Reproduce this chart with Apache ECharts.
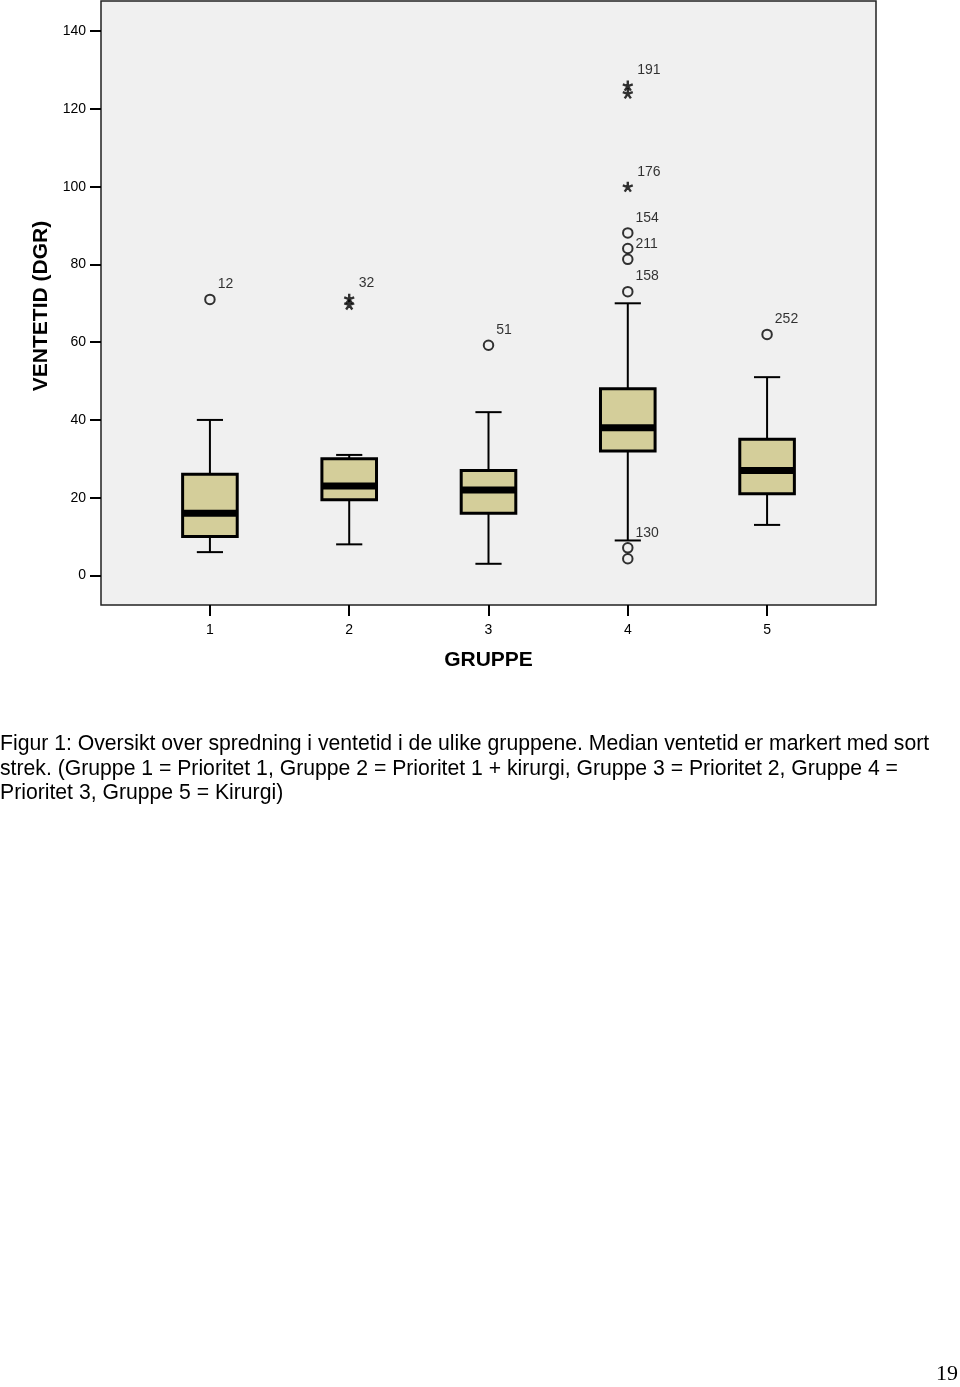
<!DOCTYPE html>
<html>
<head>
<meta charset="utf-8">
<script src="https://cdn.jsdelivr.net/npm/echarts@6/dist/echarts.min.js"></script>
<style>
html,body{margin:0;padding:0;background:#fff;}
#chart{width:960px;height:1387px;}
</style>
</head>
<body>
<div id="chart"></div>
<script>
// ---- data ----
const groups = [1, 2, 3, 4, 5];
const tickLabelsX = ['1', '2', '3', '4', '5'];
const tickValuesY = [0, 20, 40, 60, 80, 100, 120, 140];
const whiskerLow  = [6, 8, 3, 9, 13];
const q1          = [10, 19.5, 16, 32, 21];
const median      = [16, 23, 22, 38, 27];
const q3          = [26, 30, 27, 48, 35];
const whiskerHigh = [40, 31, 42, 70, 51];

const outlierGroup = [1, 3, 4, 4, 4, 4, 4, 4, 5];
const outlierValue = [71, 59.2, 7.1, 4.3, 73, 81.3, 84.1, 88.1, 62];
const outlierLabel = ['12', '51', '130', '', '158', '211', '', '154', '252'];

const extremeGroup = [2, 2, 4, 4, 4];
const extremeValue = [71.2, 69.7, 100, 126, 124];
const extremeLabel = ['32', '', '176', '191', ''];

const xTitle = 'GRUPPE';
const yTitle = 'VENTETID (DGR)';
const captionLines = [
  'Figur 1: Oversikt over spredning i ventetid i de ulike gruppene. Median ventetid er markert med sort',
  'strek. (Gruppe 1 = Prioritet 1, Gruppe 2 = Prioritet 1 + kirurgi, Gruppe 3 = Prioritet 2, Gruppe 4 =',
  'Prioritet 3, Gruppe 5 = Kirurgi)'
];
const pageNumber = '19';

// ---- styles ----
const FONT = '"Liberation Sans", Arial, sans-serif';
const BOX_FILL = '#d4ce9a';
const BOX_W = 0.392;
const CAP_W = 0.188;

const boxData = groups.map((g, i) => [g, whiskerLow[i], q1[i], median[i], q3[i], whiskerHigh[i]]);
const outData = outlierGroup.map((g, i) => [g, outlierValue[i], outlierLabel[i]]);
const extData = extremeGroup.map((g, i) => [g, extremeValue[i], extremeLabel[i]]);

const chart = echarts.init(document.getElementById('chart'), null, {renderer: 'canvas'});

const labelCfg = {
  show: true,
  position: 'right',
  distance: 2,
  offset: [0, -15],
  formatter: p => p.value[2],
  fontSize: 14,
  fontFamily: FONT,
  color: '#000'
};

const option = {
  animation: false,
  backgroundColor: '#fff',
  grid: {
    left: 101, top: 1, width: 775, height: 604,
    show: true, backgroundColor: '#f0f0f0', borderColor: '#222', borderWidth: 1.5
  },
  xAxis: {
    type: 'value', min: 0.218, max: 5.782,
    name: xTitle, nameLocation: 'middle', nameGap: 45,
    nameTextStyle: {fontSize: 21, fontWeight: 'bold', fontFamily: FONT, color: '#000'},
    axisLine: {show: false, onZero: false},
    splitLine: {show: false},
    axisTick: {show: true, length: 11, lineStyle: {color: '#000', width: 2}, customValues: groups},
    axisLabel: {
      show: true, margin: 18, fontSize: 14, fontFamily: FONT, color: '#000',
      customValues: groups,
      formatter: v => tickLabelsX[groups.indexOf(Math.round(v))] || ''
    }
  },
  yAxis: {
    type: 'value', min: -7.6, max: 147.75,
    name: yTitle, nameLocation: 'middle', nameGap: 49, nameRotate: 90,
    nameTextStyle: {fontSize: 21, fontWeight: 'bold', fontFamily: FONT, color: '#000', padding: [0, 6, 0, 0]},
    axisLine: {show: false, onZero: false},
    splitLine: {show: false},
    axisTick: {show: true, length: 11, lineStyle: {color: '#000', width: 2}, customValues: tickValuesY},
    axisLabel: {
      show: true, margin: 15, fontSize: 14, fontFamily: FONT, color: '#000',
      customValues: tickValuesY
    }
  },
  series: [
    {
      type: 'custom',
      data: boxData,
      encode: {x: 0, y: [1, 2, 3, 4, 5]},
      renderItem: function (params, api) {
        const x = api.value(0);
        const pLo = api.coord([x, api.value(1)]);
        const pQ1 = api.coord([x, api.value(2)]);
        const pMed = api.coord([x, api.value(3)]);
        const pQ3 = api.coord([x, api.value(4)]);
        const pHi = api.coord([x, api.value(5)]);
        const cx = pLo[0];
        const hb = api.size([BOX_W, 0])[0] / 2;
        const hc = api.size([CAP_W, 0])[0] / 2;
        const ls = {stroke: '#000', lineWidth: 2};
        return {
          type: 'group',
          children: [
            {type: 'line', shape: {x1: cx, y1: pLo[1], x2: cx, y2: pQ1[1]}, style: ls},
            {type: 'line', shape: {x1: cx, y1: pQ3[1], x2: cx, y2: pHi[1]}, style: ls},
            {type: 'line', shape: {x1: cx - hc, y1: pLo[1], x2: cx + hc, y2: pLo[1]}, style: ls},
            {type: 'line', shape: {x1: cx - hc, y1: pHi[1], x2: cx + hc, y2: pHi[1]}, style: ls},
            {type: 'rect', shape: {x: cx - hb, y: pQ3[1], width: 2 * hb, height: pQ1[1] - pQ3[1]},
              style: {fill: BOX_FILL, stroke: '#000', lineWidth: 3}},
            {type: 'line', shape: {x1: cx - hb, y1: pMed[1], x2: cx + hb, y2: pMed[1]},
              style: {stroke: '#000', lineWidth: 7}}
          ]
        };
      },
      z: 2
    },
    {
      type: 'scatter',
      data: outData,
      symbol: 'circle',
      symbolSize: 9.5,
      itemStyle: {color: 'rgba(0,0,0,0)', borderColor: '#000', borderWidth: 2},
      label: labelCfg,
      z: 3
    },
    {
      type: 'scatter',
      data: extData,
      symbol: 'path://M5 5 L5 0 M5 5 L9.76 3.45 M5 5 L7.94 9.05 M5 5 L2.06 9.05 M5 5 L0.24 3.45',
      symbolSize: 10,
      itemStyle: {color: 'none', borderColor: '#000', borderWidth: 2.4},
      label: labelCfg,
      z: 3
    }
  ],
  graphic: captionLines.map((t, i) => ({
    type: 'text', left: 0, top: 734 + i * 24.5,
    style: {text: t, fontSize: 21.2, fontFamily: FONT, fill: '#000'}
  })).concat([{
    type: 'text', left: 936, top: 1363,
    style: {text: pageNumber, fontSize: 22, fontFamily: '"Liberation Serif", "Times New Roman", serif', fill: '#000'}
  }])
};

chart.setOption(option);
</script>
</body>
</html>
